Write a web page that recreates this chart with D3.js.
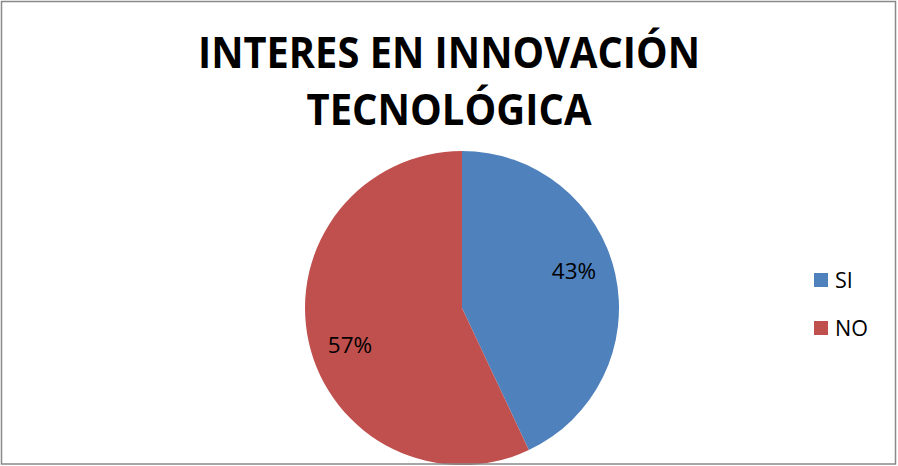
<!DOCTYPE html>
<html>
<head>
<meta charset="utf-8">
<script src="https://cdn.jsdelivr.net/npm/d3@7"></script>
<style>
    body { margin: 0; background: #fff; }
    #chart { width: 898px; height: 466px; }
    text { font-family: 'Open Sans', 'Liberation Sans', sans-serif; fill: #000; }
</style>
</head>
<body>
<div id="chart"></div>
<script>
//Datos
const categorias = ['SI', 'NO'];
const valores = [43, 57];
const titulo = ['INTERES EN INNOVACIÓN', 'TECNOLÓGICA'];

//Colores fijos
const COLOR_SI = '#4F81BD',
COLOR_NO = '#C0504D';

let width = 898, height = 466;

let svg = d3.select('#chart')
    .append('svg')
        .attr('width', width)
        .attr('height', height);

let datos = categorias.map(function(c, i) { return {cat: c, value: valores[i]}; });

let color = d3.scaleOrdinal()
    .domain(categorias)
    .range([COLOR_SI, COLOR_NO]);

//Tarta
let radius = 157;
let g = svg.append('g')
    .attr('transform', 'translate(462,308)');

let pie = d3.pie()
    .sort(null)
    .value(function(d) { return d.value; });

let arc = d3.arc()
    .innerRadius(0)
    .outerRadius(radius);

let arcs = pie(datos);
let total = d3.sum(valores);

g.selectAll('path')
    .data(arcs)
    .enter()
    .append('path')
    .attr('d', arc)
    .attr('fill', function(d) { return color(d.data.cat); });

//Etiquetas (Excel las desplaza un poco en sentido antihorario)
let labelR = 118;
g.selectAll('.label')
    .data(arcs)
    .enter()
    .append('text')
    .attr('class', 'label')
    .attr('x', function(d) { let a = (d.startAngle + d.endAngle) / 2 - 0.1; return Math.sin(a) * labelR; })
    .attr('y', function(d) { let a = (d.startAngle + d.endAngle) / 2 - 0.1; return -Math.cos(a) * labelR; })
    .attr('text-anchor', 'middle')
    .attr('dy', '0.36em')
    .style('font-size', '22.5px')
    .text(function(d) { return Math.round(d.data.value / total * 100) + '%'; });

//Título
let tLines = svg.append('g');
tLines.selectAll('text')
    .data(titulo)
    .enter()
    .append('text')
    .attr('x', 449)
    .attr('y', function(d, i) { return 68 + i * 57; })
    .attr('text-anchor', 'middle')
    .attr('textLength', function(d, i) { return i == 0 ? 502 : 285; })
    .attr('lengthAdjust', 'spacingAndGlyphs')
    .style('font-size', '43px')
    .style('font-weight', '700')
    .text(function(d) { return d; });

//Leyenda
let legend = svg.append('g')
    .attr('transform', 'translate(814,273)');

let items = legend.selectAll('g')
    .data(categorias)
    .enter()
    .append('g')
    .attr('transform', function(d, i) { return 'translate(0,' + (i * 48) + ')'; });

items.append('rect')
    .attr('width', 14)
    .attr('height', 14)
    .attr('fill', function(d) { return color(d); });

items.append('text')
    .attr('x', 21)
    .attr('y', 15)
    .style('font-size', '21.5px')
    .text(function(d) { return d; });

//Borde
svg.append('rect')
    .attr('x', 1.5)
    .attr('y', 1.5)
    .attr('width', width - 4)
    .attr('height', height - 3.5)
    .attr('fill', 'none')
    .attr('stroke', '#898989')
    .attr('stroke-width', 1.5);
</script>
</body>
</html>
